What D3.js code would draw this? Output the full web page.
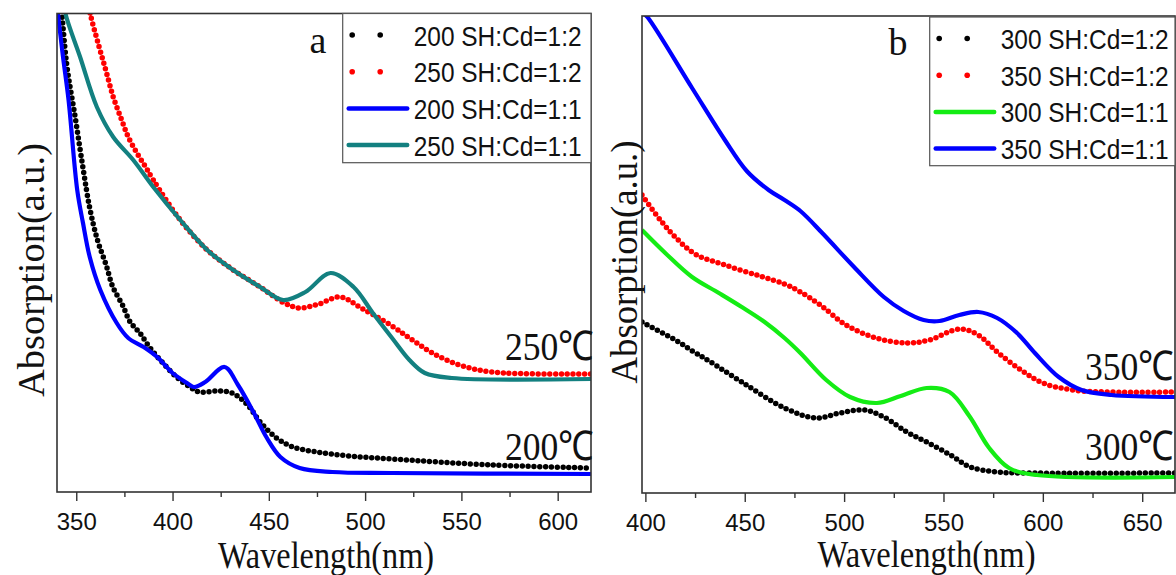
<!DOCTYPE html>
<html>
<head>
<meta charset="utf-8">
<script src="https://cdn.jsdelivr.net/npm/d3@7"></script>
<style>
    body { margin: 0; background: #fff; }
    svg { display: block; }
</style>
</head>
<body>
<div id="chart"></div>
<script>
// wavelength (nm), absorption (a.u.)
var a200half = [[342, 4.92], [345, 4.28], [349.5, 3.74], [353.5, 3.24], [357, 2.84], [361, 2.52], [365.5, 2.27], [369, 2.05],
    [374, 1.87], [378, 1.70], [383, 1.59], [388, 1.45], [395, 1.29], [402, 1.15], [409, 1.05], [414, 1.00], [423, 1.01],
    [431, 0.99], [439, 0.87], [445.5, 0.70], [454, 0.54], [462.5, 0.45], [475, 0.40], [492, 0.36], [514, 0.33], [566, 0.27], [617.3, 0.24]];
var a250half = [[355, 5.02], [357.3, 4.78], [361.6, 4.47], [365.6, 4.20], [369.2, 3.95], [373.2, 3.74], [377, 3.55], [381.5, 3.39],
    [386, 3.25], [390, 3.12], [404, 2.72], [418, 2.42], [431.5, 2.22], [445.5, 2.05], [458, 1.89], [466, 1.84], [476, 1.88],
    [487, 1.95], [498, 1.84], [514, 1.66], [524.5, 1.52], [535, 1.39], [549, 1.27], [566, 1.20], [617.3, 1.18]];
var a200one = [[340, 4.87], [343, 4.37], [346, 3.92], [350.5, 3.02], [353.5, 2.69], [357, 2.35], [362.5, 2.02], [371, 1.69],
    [377, 1.54], [385, 1.45], [392, 1.35], [400, 1.19], [407.5, 1.09], [411, 1.05], [417, 1.10], [427, 1.25], [434, 1.07],
    [442, 0.80], [449, 0.54], [456, 0.35], [466, 0.24], [483, 0.20], [514, 0.19], [617.3, 0.18]];
var a250one = [[342, 5.07], [344.3, 4.79], [352, 4.35], [360.7, 3.85], [369.2, 3.55], [379.6, 3.32], [390, 3.05], [404, 2.72],
    [418, 2.42], [431.5, 2.22], [445.5, 2.05], [457.5, 1.92], [469, 2.00], [482, 2.19], [494, 2.05], [504, 1.79], [514, 1.54],
    [523, 1.32], [531, 1.19], [545, 1.14], [617.3, 1.13]];

var b300half = [[398.3, 1.71], [415, 1.53], [424.5, 1.41], [432, 1.32], [448.5, 1.11], [470, 0.85], [486, 0.75], [498, 0.80],
    [510, 0.83], [520, 0.76], [531.5, 0.61], [541.5, 0.51], [553.5, 0.38], [563.5, 0.26], [577, 0.21], [593, 0.20], [666.5, 0.20]];
var b350half = [[398.3, 2.98], [407.5, 2.73], [415, 2.56], [425, 2.39], [440, 2.28], [457.5, 2.17], [470, 2.09], [478, 2.01],
    [488, 1.88], [501, 1.68], [516, 1.55], [531.5, 1.50], [543, 1.53], [558, 1.64], [567.5, 1.58], [577, 1.41], [589, 1.23],
    [600, 1.10], [615, 1.03], [634.5, 1.01], [666.5, 1.01]];
var b300one = [[398.3, 2.63], [410, 2.40], [423.5, 2.16], [437, 2.00], [448.5, 1.86], [460, 1.71], [470, 1.55], [478, 1.40],
    [491, 1.13], [503, 0.96], [516.5, 0.90], [528.5, 0.97], [541.5, 1.05], [553, 1.01], [563, 0.77], [573, 0.45], [583, 0.25],
    [597, 0.18], [666.5, 0.16]];
var b350one = [[398.3, 4.81], [401, 4.76], [423.5, 4.05], [440, 3.53], [451, 3.22], [462, 3.03], [470, 2.93], [478, 2.82],
    [489, 2.60], [505, 2.26], [520, 1.96], [530, 1.82], [540, 1.73], [548, 1.72], [558, 1.78], [567.5, 1.81], [577, 1.75],
    [587, 1.60], [596, 1.40], [608, 1.16], [619.5, 1.03], [634.5, 0.98], [666.5, 0.96]];

var ticksA = [350, 400, 450, 500, 550, 600],
    minorA = [375, 425, 475, 525, 575],
    ticksB = [400, 450, 500, 550, 600, 650],
    minorB = [425, 475, 525, 575, 625];

var namesA = ["200 SH:Cd=1:2", "250 SH:Cd=1:2", "200 SH:Cd=1:1", "250 SH:Cd=1:1"],
    namesB = ["300 SH:Cd=1:2", "350 SH:Cd=1:2", "300 SH:Cd=1:1", "350 SH:Cd=1:1"],
    tempsA = ["250℃", "200℃"],
    tempsB = ["350℃", "300℃"];

var serif = '"Liberation Serif", "Times New Roman", serif',
    sans = '"Liberation Sans", Arial, sans-serif';

var panels = [
    {
        id: "a", left: 57, right: 591, top: 13.5, bottom: 492,
        xDomain: [340, 617.3], yDomain: [0, 4.785],
        ticks: ticksA, minor: minorA,
        series: [
            { name: namesA[0], data: a200half, color: "#000000", dotted: true },
            { name: namesA[1], data: a250half, color: "#ff0000", dotted: true },
            { name: namesA[2], data: a200one, color: "#0000ff", dotted: false },
            { name: namesA[3], data: a250one, color: "#138080", dotted: false }
        ],
        legend: { x: 342.7, y: 13.5, w: 248.3, h: 149.2 },
        letter: { text: "a", x: 318, y: 53.3 },
        temps: [{ text: tempsA[0], x: 505, y: 360 }, { text: tempsA[1], x: 505, y: 460 }],
        xTitle: { x: 326, y: 568, len: 216 },
        yTitle: { x: 44, y: 270, len: 254 }
    },
    {
        id: "b", left: 642, right: 1175, top: 16, bottom: 493,
        xDomain: [398.3, 666.5], yDomain: [0, 4.77],
        ticks: ticksB, minor: minorB,
        series: [
            { name: namesB[0], data: b300half, color: "#000000", dotted: true },
            { name: namesB[1], data: b350half, color: "#ff0000", dotted: true },
            { name: namesB[2], data: b300one, color: "#14ec14", dotted: false },
            { name: namesB[3], data: b350one, color: "#0000ff", dotted: false }
        ],
        legend: { x: 929.7, y: 17, w: 245.3, h: 148.7 },
        letter: { text: "b", x: 898, y: 55 },
        temps: [{ text: tempsB[0], x: 1085, y: 380 }, { text: tempsB[1], x: 1085, y: 460 }],
        xTitle: { x: 926.5, y: 567, len: 218 },
        yTitle: { x: 637, y: 262, len: 243 }
    }
];

var svg = d3.select("#chart").append("svg")
    .attr("width", 1176)
    .attr("height", 575);

svg.append("rect").attr("width", 1176).attr("height", 575).attr("fill", "#fff");

// text squeezed horizontally to a given width (the original uses narrow faces)
function squeezed(parent, str, x, y, width, family, size) {
    var g = parent.append("g");
    var t = g.append("text")
        .text(str)
        .attr("fill", "#111")
        .style("font-family", family)
        .style("font-size", size + "px");
    var sx = width / t.node().getComputedTextLength();
    g.attr("transform", "translate(" + x + "," + y + ") scale(" + sx + ",1)");
    return g;
}

panels.forEach(function (p) {
    var x = d3.scaleLinear().domain(p.xDomain).range([p.left, p.right]);
    var y = d3.scaleLinear().domain(p.yDomain).range([p.bottom, p.top]);

    svg.append("clipPath").attr("id", "clip-" + p.id)
        .append("rect")
        .attr("x", p.left).attr("y", p.top)
        .attr("width", p.right - p.left).attr("height", p.bottom - p.top);

    var line = d3.line()
        .x(function (d) { return x(d[0]); })
        .y(function (d) { return y(d[1]); })
        .curve(d3.curveCatmullRom.alpha(0.5));

    var plot = svg.append("g").attr("clip-path", "url(#clip-" + p.id + ")");

    // dotted ones first, solid lines sit on top of them
    p.series.filter(function (s) { return s.dotted; }).concat(p.series.filter(function (s) { return !s.dotted; }))
        .forEach(function (s) {
            var path = plot.append("path")
                .attr("d", line(s.data))
                .attr("fill", "none")
                .attr("stroke", s.color)
                .attr("stroke-linejoin", "round");
            if (s.dotted) {
                path.attr("stroke-width", 5.5)
                    .attr("stroke-linecap", "round")
                    .attr("stroke-dasharray", "0 5.8");
            } else {
                path.attr("stroke-width", 4.2);
            }
        });

    // x axis, major + minor ticks
    var axis = svg.append("g")
        .attr("transform", "translate(0," + p.bottom + ")")
        .call(d3.axisBottom(x).tickValues(p.ticks).tickSize(9).tickSizeOuter(0).tickFormat(d3.format("d")));
    axis.select(".domain").remove();
    axis.selectAll("line").attr("stroke", "#333").attr("stroke-width", 1.4);
    axis.selectAll("text")
        .attr("y", 37.5)
        .attr("dy", 0)
        .attr("fill", "#111")
        .style("font-family", sans)
        .style("font-size", "24px")
        .attr("textLength", 40)
        .attr("lengthAdjust", "spacingAndGlyphs");

    var minor = svg.append("g")
        .attr("transform", "translate(0," + p.bottom + ")")
        .call(d3.axisBottom(x).tickValues(p.minor).tickSize(5).tickSizeOuter(0).tickFormat(""));
    minor.select(".domain").remove();
    minor.selectAll("line").attr("stroke", "#333").attr("stroke-width", 1.4);

    // frame
    svg.append("rect")
        .attr("x", p.left).attr("y", p.top)
        .attr("width", p.right - p.left).attr("height", p.bottom - p.top)
        .attr("fill", "none")
        .attr("stroke", "#333")
        .attr("stroke-width", 1.6);

    // legend
    var lg = svg.append("g").attr("transform", "translate(" + p.legend.x + "," + p.legend.y + ")");
    lg.append("rect")
        .attr("width", p.legend.w).attr("height", p.legend.h)
        .attr("fill", "#fff")
        .attr("stroke", "#555")
        .attr("stroke-width", 1.2);

    var rows = lg.selectAll(".row")
        .data(p.series)
        .enter().append("g")
        .attr("class", "row")
        .attr("transform", function (d, i) { return "translate(0," + (21.5 + i * 36.7) + ")"; });

    rows.each(function (s) {
        var r = d3.select(this);
        if (s.dotted) {
            r.selectAll("circle").data([9.5, 37.5]).enter().append("circle")
                .attr("cx", function (d) { return d; })
                .attr("cy", 0)
                .attr("r", 2.8)
                .attr("fill", s.color);
        } else {
            r.append("line")
                .attr("x1", 6).attr("x2", 64.5)
                .attr("y1", 0).attr("y2", 0)
                .attr("stroke", s.color)
                .attr("stroke-width", 4.5)
                .attr("stroke-linecap", "round");
        }
        squeezed(r, s.name, 71, 10.5, 168, sans, 27);
    });

    // panel letter
    svg.append("text")
        .attr("x", p.letter.x).attr("y", p.letter.y)
        .attr("text-anchor", "middle")
        .style("font-family", serif)
        .style("font-size", "38px")
        .attr("fill", "#111")
        .text(p.letter.text);

    // temperature tags
    p.temps.forEach(function (t) {
        squeezed(svg, t.text, t.x, t.y, 89, serif, 41);
    });

    // axis titles
    svg.append("text")
        .attr("x", p.xTitle.x).attr("y", p.xTitle.y)
        .attr("text-anchor", "middle")
        .style("font-family", serif)
        .style("font-size", "37px")
        .attr("fill", "#111")
        .attr("textLength", p.xTitle.len)
        .attr("lengthAdjust", "spacingAndGlyphs")
        .text("Wavelength(nm)");

    svg.append("text")
        .attr("transform", "translate(" + p.yTitle.x + "," + p.yTitle.y + ") rotate(-90)")
        .attr("text-anchor", "middle")
        .style("font-family", serif)
        .style("font-size", "38px")
        .attr("fill", "#111")
        .attr("textLength", p.yTitle.len)
        .attr("lengthAdjust", "spacingAndGlyphs")
        .text("Absorption(a.u.)");
});
</script>
</body>
</html>
